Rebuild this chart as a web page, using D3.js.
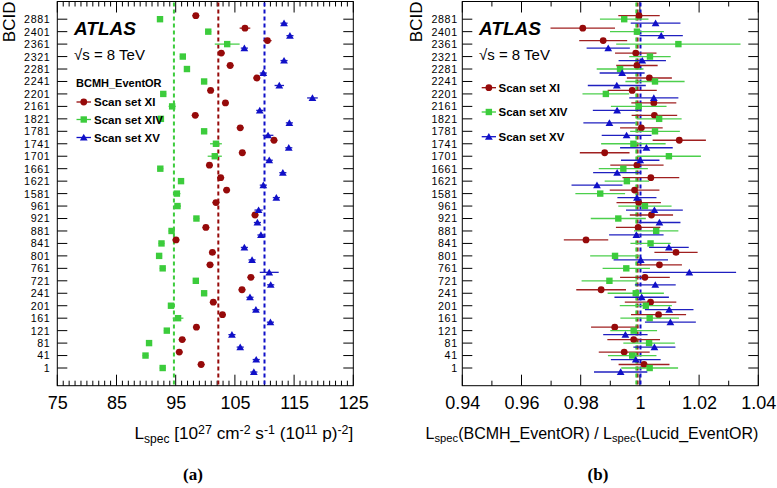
<!DOCTYPE html>
<html><head><meta charset="utf-8">
<script src="https://cdn.jsdelivr.net/npm/d3@7"></script>
<style>
body{margin:0;background:#fff;}
svg{display:block;font-family:"Liberation Sans",Arial,Helvetica,sans-serif;}
</style></head>
<body>
<svg id="c" width="777" height="488"></svg>
<script>
// ---------- data ----------
const bcid = ["2881","2401","2361","2321","2281","2241","2201","2161","1821","1781","1741","1701","1661","1621","1581","961","921","881","841","801","761","721","241","201","161","121","81","41","1"];

// panel (a): L_spec values
const lspecXI  = [98.4,106.7,110.5,102.7,104.2,108.7,100.9,103.4,98.3,105.9,111.6,106.25,100.7,102.6,103.6,101.8,108.4,100.1,95.05,101.2,100.8,107.7,106.2,101.35,102.9,98.5,96.1,95.6,99.3];
const lspecXIerr = [0.6,0.9,0.7,0.6,0.6,0.6,0.6,0.6,0.6,0.6,0.6,0.6,0.6,0.6,0.6,0.6,0.6,0.6,0.6,0.6,0.6,0.6,0.6,0.6,0.6,0.6,0.6,0.6,0.6];
const lspecXIV = [92.35,100.5,103.7,96.2,96.9,99.8,92.9,94.4,92.5,99.8,101.8,101.6,92.4,95.9,95.2,95.3,98.5,94.3,92.6,92.2,92.8,98.4,99.8,94.2,95.4,93.5,90.5,89.9,92.8];
const lspecXIVerr = [0.5,0.5,2.1,0.5,0.5,0.5,0.5,0.6,0.5,0.5,1.0,1.2,0.5,0.5,0.6,0.6,0.5,0.5,0.5,0.5,0.5,0.5,0.5,0.5,0.9,0.5,0.5,0.5,0.5];
const lspecXV  = [113.3,114.3,106.6,113.3,109.8,112.5,118.1,109.2,114.2,110.6,114.1,110.8,113.1,109.8,112.0,109.0,108.8,109.4,106.6,107.9,110.8,111.05,107.55,108.55,111.0,104.5,105.9,108.6,108.2];
const lspecXVerr = [0.6,0.6,0.6,0.6,0.6,0.8,0.9,0.6,0.6,0.9,0.6,0.6,0.6,0.6,0.6,0.7,0.6,0.6,0.6,0.6,1.6,0.6,0.6,0.6,0.6,0.6,0.6,0.6,0.6];
const lspecMeans = [102.2, 94.7, 110.0]; // XI, XIV, XV

// panel (b): ratio BCMH / Lucid
const ratioXI  = [0.9997,0.9807,0.9876,0.9986,0.999,1.0032,0.9974,1.0047,1.0049,1.0005,1.0133,0.9881,0.999,1.0037,0.9982,0.9996,1.0039,0.9994,0.9818,1.0122,1.0066,1.0017,0.9869,1.0036,1.0063,0.9915,0.9979,0.9947,1.0014];
const ratioXIerr = [0.007,0.0109,0.0081,0.007,0.007,0.0076,0.0083,0.0076,0.0077,0.0072,0.009,0.0084,0.009,0.0096,0.0084,0.0075,0.0073,0.0075,0.0075,0.0073,0.0076,0.0084,0.0084,0.0087,0.0093,0.008,0.0089,0.0086,0.0086];
const ratioXIV = [0.9947,0.999,1.013,1.0034,0.9933,1.0051,0.9885,0.9996,1.0065,1.0051,0.9978,1.0098,0.9944,0.9956,0.9866,1.0017,0.9927,1.0055,1.0036,0.9916,0.9954,0.9897,0.9986,1.002,1.0033,0.9979,1.0031,0.9974,1.0033];
const ratioXIVerr = [0.0082,0.0091,0.021,0.007,0.0079,0.01,0.0079,0.0094,0.0076,0.0084,0.0109,0.0108,0.0083,0.0075,0.0084,0.009,0.0093,0.0075,0.0068,0.0084,0.008,0.0094,0.0095,0.0088,0.0099,0.0079,0.0087,0.0082,0.0096];
const ratioXV  = [1.0053,1.0072,0.9893,1.0008,0.994,0.9922,1.0047,0.9923,0.9897,0.9955,1.0022,1.0001,0.9923,0.9855,0.999,1.0049,1.0066,0.9988,1.0098,1.0003,1.0167,1.0052,1.0006,1.0099,1.0103,0.9951,1.0049,0.9986,0.9935];
const ratioXVerr = [0.0084,0.0073,0.0073,0.008,0.0076,0.0098,0.0083,0.0082,0.0088,0.0084,0.0089,0.0065,0.0081,0.0086,0.0066,0.0096,0.0071,0.0092,0.0067,0.0092,0.0158,0.0069,0.0092,0.0082,0.0086,0.0075,0.0071,0.0084,0.009];
const ratioMeans = [0.9992, 0.9988, 1.0002];

const seriesNames = ["Scan set XI","Scan set XIV","Scan set XV"];
const xTicksA = [75,85,95,105,115,125];
const xTicksB = [0.94,0.96,0.98,1,1.02,1.04];
const xTickLabelsB = ["0.94","0.96","0.98","1","1.02","1.04"];

// ---------- drawing ----------
const svg = d3.select("#c");
const colors = ["#960a0a","#3ccc3c","#1010c8"];
const barColors = ["#a02020","#4ccf4c","#2020c0"];
const yOff = [-3.5, 0, 4];
const yTop = 1.5, yBot = 385.7;
const y = d3.scalePoint().domain(bcid).range([yTop, yBot]).padding(1.42);

function marker(g, k, cx, cy){
  if(k===0) g.append("circle").attr("cx",cx).attr("cy",cy).attr("r",3.4).attr("fill",colors[0]);
  else if(k===1) g.append("rect").attr("x",cx-3.2).attr("y",cy-3.2).attr("width",6.4).attr("height",6.4).attr("fill",colors[1]);
  else g.append("path").attr("d", d3.symbol(d3.symbolTriangle, 26)()).attr("transform",`translate(${cx},${cy+0.8})`).attr("fill",colors[2]);
}

function panel(opt){
  const x = d3.scaleLinear().domain(opt.domain).range([opt.x0, opt.x1]);
  const g = svg.append("g");
  g.append("rect").attr("x",opt.x0).attr("y",yTop).attr("width",opt.x1-opt.x0).attr("height",yBot-yTop)
    .attr("fill","none").attr("stroke","#000").attr("stroke-width",1);
  const n = Math.round((opt.domain[1]-opt.domain[0])/opt.minorStep);
  d3.range(n+1).forEach(i=>{
    const v = opt.domain[0] + i*opt.minorStep;
    const isMajor = opt.ticks.some(t=>Math.abs(t-v)<opt.minorStep/10);
    const L = isMajor?11:5;
    const px = x(v);
    g.append("line").attr("x1",px).attr("x2",px).attr("y1",yBot).attr("y2",yBot-L).attr("stroke","#000");
    g.append("line").attr("x1",px).attr("x2",px).attr("y1",yTop).attr("y2",yTop+L).attr("stroke","#000");
  });
  const ax = g.append("g").attr("transform",`translate(0,${yBot})`)
    .call(d3.axisBottom(x).tickValues(opt.ticks).tickFormat((d,i)=>opt.tickLabels[i]).tickSize(0).tickPadding(0));
  ax.select(".domain").remove();
  ax.selectAll("text").attr("font-size",18).attr("font-family","Liberation Sans, Arial, sans-serif")
    .attr("fill","#000").attr("dy",null).attr("y",23.5);
  bcid.forEach(b=>{
    const py = y(b);
    g.append("line").attr("x1",opt.x0).attr("x2",opt.x0+10).attr("y1",py).attr("y2",py).attr("stroke","#000");
    g.append("line").attr("x1",opt.x1).attr("x2",opt.x1-10).attr("y1",py).attr("y2",py).attr("stroke","#000");
  });
  const ay = g.append("g").attr("transform",`translate(${opt.x0},0)`)
    .call(d3.axisLeft(y).tickSize(0).tickPadding(opt.yPad));
  ay.select(".domain").remove();
  ay.selectAll("text").attr("font-size",10.7).attr("letter-spacing","0.6px").attr("fill","#000")
    .attr("font-family","Liberation Sans, Arial, sans-serif");
  g.append("text").attr("transform",`translate(${opt.bcidX},${yTop})rotate(-90)`).attr("text-anchor","end")
    .attr("font-size",17).text("BCID");
  opt.means.forEach((m,k)=>{
    g.append("line").attr("x1",x(m)).attr("x2",x(m)).attr("y1",yTop+1).attr("y2",yBot-1)
      .attr("stroke",colors[k]).attr("stroke-width",2).attr("stroke-dasharray","4,3");
  });
  opt.series.forEach((s,k)=>{
    const sg = g.append("g");
    bcid.forEach((b,i)=>{
      const py = y(b)+yOff[k];
      sg.append("line").attr("x1",x(s.v[i]-s.e[i])).attr("x2",x(s.v[i]+s.e[i])).attr("y1",py).attr("y2",py)
        .attr("stroke",barColors[k]).attr("stroke-width",1.3);
      marker(sg,k,x(s.v[i]),py);
    });
  });
  g.append("text").attr("x",opt.atlasX).attr("y",35).attr("font-size",19).attr("font-weight","bold")
    .attr("font-style","italic").text("ATLAS");
  g.append("text").attr("x",opt.atlasX).attr("y",60).attr("font-size",15).text("\u221As = 8 TeV");
  if(opt.header) g.append("text").attr("x",opt.legX).attr("y",opt.headerY).attr("font-size",11)
    .attr("font-weight","bold").text(opt.header);
  opt.legY.forEach((ly,k)=>{
    g.append("line").attr("x1",opt.legLine[0]).attr("x2",opt.legLine[1]).attr("y1",ly).attr("y2",ly)
      .attr("stroke",colors[k]).attr("stroke-width",1.3);
    marker(g,k,(opt.legLine[0]+opt.legLine[1])/2,ly);
    g.append("text").attr("x",opt.legText).attr("y",ly+4).attr("font-size",11.5).attr("font-weight","bold").text(seriesNames[k]);
  });
  const t = g.append("text").attr("x",opt.x1).attr("y",439).attr("text-anchor","end").attr("font-size",opt.titleSize);
  opt.title.forEach(([txt,kind])=>{
    const sp = t.append("tspan").text(txt);
    if(kind==="sub") sp.attr("font-size",opt.titleSize*0.7).attr("baseline-shift","-30%");
    else if(kind==="sup") sp.attr("font-size",opt.titleSize*0.72).attr("baseline-shift","45%");
  });
  g.append("text").attr("x",opt.capX).attr("y",480).attr("text-anchor","middle")
    .attr("font-family","Liberation Serif, Times New Roman, serif").attr("font-weight","bold").attr("font-size",17).text(opt.caption);
}

panel({
  x0:57.3, x1:353.3, domain:[75,125], ticks:xTicksA, tickLabels:xTicksA.map(String), minorStep:1,
  yPad:7, bcidX:15, means:lspecMeans,
  series:[{v:lspecXI,e:lspecXIerr},{v:lspecXIV,e:lspecXIVerr},{v:lspecXV,e:lspecXVerr}],
  atlasX:74, header:"BCMH_EventOR", headerY:87, legX:76, legY:[102,119.5,137.5], legLine:[76.5,91], legText:94,
  titleSize:17.2,
  title:[["L",""],["spec","sub"],[" [10",""],["27","sup"],[" cm",""],["-2","sup"],[" s",""],["-1","sup"],[" (10",""],["11","sup"],[" p)",""],["-2","sup"],["]",""]],
  capX:193, caption:"(a)"
});
panel({
  x0:462.3, x1:758.3, domain:[0.94,1.04], ticks:xTicksB, tickLabels:xTickLabelsB, minorStep:0.01,
  yPad:4.6, bcidX:421.5, means:ratioMeans,
  series:[{v:ratioXI,e:ratioXIerr},{v:ratioXIV,e:ratioXIVerr},{v:ratioXV,e:ratioXVerr}],
  atlasX:479, header:null, legY:[87.7,112,136.7], legLine:[481.7,496], legText:498.5,
  titleSize:16,
  title:[["L",""],["spec","sub"],["(BCMH_EventOR) / L",""],["spec","sub"],["(Lucid_EventOR)",""]],
  capX:598, caption:"(b)"
});
</script>
</body></html>
